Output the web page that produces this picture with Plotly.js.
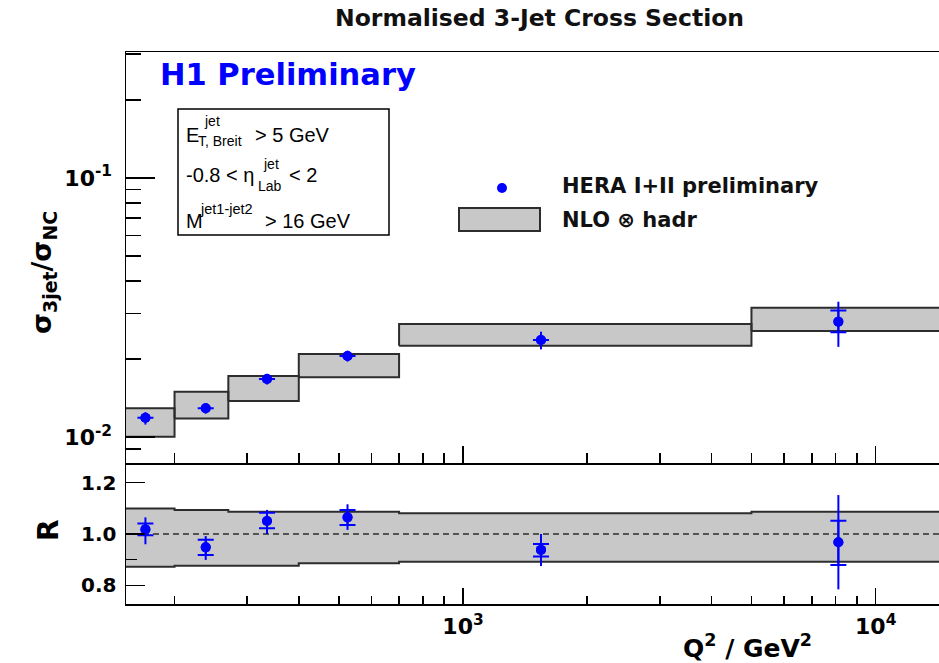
<!DOCTYPE html>
<html><head><meta charset="utf-8">
<script src="https://cdn.plot.ly/plotly-3.0.1.min.js"></script>
<style>html,body{margin:0;padding:0;background:#fff}</style>
</head><body><div id="chart" style="width:939px;height:663px"></div>
<script>
// ---------- data ----------
const binEdges   = [150, 200, 270, 400, 700, 5000, 15000];
const nloLow     = [0.01003, 0.01180, 0.01377, 0.01700, 0.02252, 0.02566];
const nloHigh    = [0.01291, 0.01496, 0.01720, 0.02091, 0.02730, 0.03155];
const q2Points   = [170, 238, 335, 525, 1545, 8120];
const xsRatio    = [0.01187, 0.01291, 0.01675, 0.02055, 0.02369, 0.02788];
const xsTotUp    = [0.0006, 0.0006, 0.0008, 0.0010, 0.0018, 0.0054];
const xsTotDn    = [0.0007, 0.0006, 0.0008, 0.0010, 0.0019, 0.0056];
const xsStatUp   = [null, null, null, null, null, 0.0029];
const xsStatDn   = [null, null, null, null, null, 0.0025];
const rBandLow   = [0.8725, 0.876, 0.876, 0.886, 0.892, 0.892];
const rBandHigh  = [1.100, 1.094, 1.087, 1.087, 1.081, 1.087];
const rValues    = [1.018, 0.948, 1.051, 1.065, 0.938, 0.968];
const rTotUp     = [0.047, 0.044, 0.043, 0.051, 0.062, 0.184];
const rTotDn     = [0.058, 0.049, 0.051, 0.049, 0.063, 0.184];
const rStatUp    = [0.023, 0.030, 0.032, 0.029, 0.023, 0.084];
const rStatDn    = [0.023, 0.030, 0.029, 0.030, 0.026, 0.089];
const rReference = 1.0;

// ---------- ticks ----------
const yMajorTicks  = [0.01, 0.1];
const yMajorLabels = ['10<sup>-2</sup>', '10<sup>-1</sup>'];
const yMinorTicks  = [0.008, 0.009, 0.02, 0.03, 0.04, 0.05, 0.06, 0.07, 0.08, 0.09, 0.2, 0.3];
const xMajorTicks  = [1000, 10000];
const xMajorLabels = ['10<sup>3</sup>', '10<sup>4</sup>'];
const xMinorTicks  = [200, 300, 400, 500, 600, 700, 800, 900, 2000, 3000, 4000, 5000, 6000, 7000, 8000, 9000];
const rMajorTicks  = [0.8, 1.0, 1.2];
const rMajorLabels = ['0.8', '1.0', '1.2'];
const rMinorTicks  = [0.9];

// ---------- geometry helpers (pixel -> paper) ----------
const M = {l: 126, r: 0, t: 52, b: 59};
const W = 939, H = 663;
const PW = W - M.l - M.r, PH = H - M.t - M.b;
const px = v => (v - M.l) / PW;
const py = v => (H - M.b - v) / PH;
const splitY = py(463);

// ---------- build band polygons ----------
const upX = [], upY = [];
for (let i = 0; i < nloLow.length; i++) {
  upX.push(binEdges[i], binEdges[i+1], binEdges[i+1], binEdges[i], binEdges[i], null);
  upY.push(nloLow[i], nloLow[i], nloHigh[i], nloHigh[i], nloLow[i], null);
}
const loX = [], loY = [];
for (let i = 0; i < rBandHigh.length; i++) { loX.push(binEdges[i], binEdges[i+1]); loY.push(rBandHigh[i], rBandHigh[i]); }
for (let i = rBandLow.length - 1; i >= 0; i--) { loX.push(binEdges[i+1], binEdges[i]); loY.push(rBandLow[i], rBandLow[i]); }
loX.push(binEdges[0]); loY.push(rBandHigh[0]);

const BLUE = 'rgb(0,0,255)';
const FILL = 'rgb(200,200,200)';
const EDGE = 'rgb(45,45,45)';
const BOLD = 'DejaVu Sans';

const traces = [
  {x: upX, y: upY, xaxis: 'x', yaxis: 'y', mode: 'lines', fill: 'toself', fillcolor: FILL,
   line: {color: EDGE, width: 2}, hoverinfo: 'skip'},
  {x: q2Points, y: xsRatio, xaxis: 'x', yaxis: 'y', mode: 'markers',
   marker: {color: BLUE, size: 10},
   error_y: {type: 'data', symmetric: false, array: xsTotUp, arrayminus: xsTotDn, color: BLUE, thickness: 2, width: 0}},
  {x: q2Points, y: xsRatio, xaxis: 'x', yaxis: 'y', mode: 'markers',
   marker: {color: BLUE, size: 10},
   error_y: {type: 'data', symmetric: false, array: xsStatUp, arrayminus: xsStatDn, color: BLUE, thickness: 2, width: 8}},
  {x: loX, y: loY, xaxis: 'x2', yaxis: 'y2', mode: 'lines', fill: 'toself', fillcolor: FILL,
   line: {color: EDGE, width: 2}, hoverinfo: 'skip'},
  {x: [binEdges[0], binEdges[binEdges.length-1]], y: [rReference, rReference], xaxis: 'x2', yaxis: 'y2',
   mode: 'lines', line: {color: EDGE, width: 1.5, dash: '6px,4px'}},
  {x: q2Points, y: rValues, xaxis: 'x2', yaxis: 'y2', mode: 'markers',
   marker: {color: BLUE, size: 10},
   error_y: {type: 'data', symmetric: false, array: rTotUp, arrayminus: rTotDn, color: BLUE, thickness: 2, width: 0}},
  {x: q2Points, y: rValues, xaxis: 'x2', yaxis: 'y2', mode: 'markers',
   marker: {color: BLUE, size: 10},
   error_y: {type: 'data', symmetric: false, array: rStatUp, arrayminus: rStatDn, color: BLUE, thickness: 2, width: 8}}
];

const xRange = [2.1834, 4.1534];
const axBase = {showline: true, linecolor: 'black', linewidth: 1.5, showgrid: false, zeroline: false,
  ticks: 'inside', tickcolor: 'black', tickwidth: 1.5, fixedrange: true};

const layout = {
  width: W, height: H, margin: M, showlegend: false,
  paper_bgcolor: 'white', plot_bgcolor: 'white',
  xaxis: Object.assign({}, axBase, {type: 'log', range: xRange, domain: [0, 1], anchor: 'y', mirror: true,
    tickmode: 'array', tickvals: xMajorTicks, ticklen: 17, showticklabels: false,
    minor: {ticks: 'inside', tickmode: 'array', tickvals: xMinorTicks, ticklen: 10, tickwidth: 1.5, tickcolor: 'black', showgrid: false}}),
  yaxis: Object.assign({}, axBase, {type: 'log', range: [Math.log10(0.00794), Math.log10(0.306)], domain: [splitY, 1], anchor: 'x',
    tickmode: 'array', tickvals: yMajorTicks, ticktext: yMajorLabels, ticklen: 29, ticklabelstandoff: 8,
    tickfont: {family: BOLD, size: 22, color: 'black', weight: 'bold'},
    minor: {ticks: 'inside', tickmode: 'array', tickvals: yMinorTicks, ticklen: 15, tickwidth: 1.5, tickcolor: 'black', showgrid: false}}),
  xaxis2: Object.assign({}, axBase, {type: 'log', range: xRange, domain: [0, 1], anchor: 'y2',
    tickmode: 'array', tickvals: xMajorTicks, ticktext: xMajorLabels, ticklen: 16, ticklabelstandoff: 2,
    tickfont: {family: BOLD, size: 22, color: 'black', weight: 'bold'},
    minor: {ticks: 'inside', tickmode: 'array', tickvals: xMinorTicks, ticklen: 8, tickwidth: 1.5, tickcolor: 'black', showgrid: false}}),
  yaxis2: Object.assign({}, axBase, {range: [0.727, 1.277], domain: [0, splitY], anchor: 'x2',
    tickmode: 'array', tickvals: rMajorTicks, ticktext: rMajorLabels, ticklen: 19, ticklabelstandoff: 4,
    tickfont: {family: BOLD, size: 20, color: 'black', weight: 'bold'},
    minor: {ticks: 'inside', tickmode: 'array', tickvals: rMinorTicks, ticklen: 11, tickwidth: 1.5, tickcolor: 'black', showgrid: false}}),
  shapes: [
    {type: 'rect', xref: 'paper', yref: 'paper', x0: px(178), x1: px(389), y0: py(109), y1: py(235),
     line: {color: 'black', width: 1.5}, fillcolor: 'rgba(0,0,0,0)'},
    {type: 'rect', xref: 'paper', yref: 'paper', x0: px(459), x1: px(540), y0: py(208), y1: py(231),
     line: {color: EDGE, width: 2}, fillcolor: FILL},
    {type: 'circle', xref: 'paper', yref: 'paper', x0: px(497), x1: px(507), y0: py(183), y1: py(193),
     line: {width: 0}, fillcolor: BLUE}
  ],
  annotations: []
};

function note(text, x, y, size, opts) {
  const o = Object.assign({family: 'Liberation Sans', weight: 'normal', color: 'black', xanchor: 'left', angle: 0}, opts || {});
  layout.annotations.push({text: text, xref: 'paper', yref: 'paper', x: px(x), y: py(y),
    xanchor: o.xanchor, yanchor: 'middle', showarrow: false, textangle: o.angle,
    font: {family: o.family, size: size, color: o.color, weight: o.weight}});
}
// title
note('Normalised 3-Jet Cross Section', 539, 18, 23.5, {family: BOLD, weight: 'bold', xanchor: 'center', color: '#111'});
// H1 preliminary
note('H1 Preliminary', 158, 75, 30.5, {family: BOLD, weight: 'bold', color: BLUE});
// cut box
note('E', 184, 135, 20);
note('jet', 202, 121, 14);
note('T, Breit', 196, 141, 14);
note('> 5 GeV', 253, 135, 20);
note('-0.8 < η', 184, 175, 20);
note('jet', 261, 164, 14);
note('Lab', 256, 186, 14);
note('< 2', 287, 175, 20);
note('M', 184, 221, 20);
note('jet1-jet2', 198, 209, 14.5);
note('> 16 GeV', 263, 221, 20);
// legend
note('HERA I+II preliminary', 560, 186, 21, {family: BOLD, weight: 'bold', color: '#111'});
note('NLO ⊗ hadr', 560, 220, 21, {family: BOLD, weight: 'bold', color: '#111'});
// axis titles
note('σ<sub>3jet</sub>/σ<sub>NC</sub>', 43, 273, 27, {family: BOLD, weight: 'bold', xanchor: 'center', angle: -90});
note('R', 48, 530, 28, {family: BOLD, weight: 'bold', xanchor: 'center', angle: -90});
note('Q<sup>2</sup> / GeV<sup>2</sup>', 747, 646, 25, {family: BOLD, weight: 'bold', xanchor: 'center'});

Plotly.newPlot('chart', traces, layout, {staticPlot: true, displayModeBar: false});
</script>
</body></html>
